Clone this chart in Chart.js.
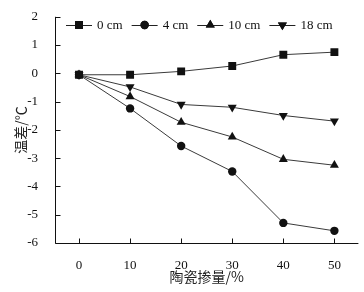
<!DOCTYPE html>
<html><head><meta charset="utf-8">
<script src="https://cdn.jsdelivr.net/npm/chart.js@4/dist/chart.umd.min.js"></script>
<style>html,body{margin:0;padding:0;background:#fff}#wrap{width:364px;height:292px}</style>
</head><body><div id="wrap"><canvas id="c" width="364" height="292"></canvas></div>
<script>
const xValues = [0, 10, 20, 30, 40, 50];
const seriesNames = ['0 cm', '4 cm', '10 cm', '18 cm'];
const s0cm  = [-0.05, -0.05, 0.07, 0.26, 0.66, 0.75];
const s4cm  = [-0.05, -1.24, -2.57, -3.47, -5.29, -5.57];
const s10cm = [-0.05, -0.82, -1.73, -2.25, -3.04, -3.25];
const s18cm = [-0.05, -0.48, -1.10, -1.20, -1.49, -1.69];
const yTicks = [-6, -5, -4, -3, -2, -1, 0, 1, 2];
const xTicks = [0, 10, 20, 30, 40, 50];
const xTitle = '陶瓷掺量/%';
const yTitle = '温差/℃';

const seriesData = [s0cm, s4cm, s10cm, s18cm];
const styles = [
  {pointStyle:'rect', radius:5.6, rotation:0},
  {pointStyle:'circle', radius:4.2, rotation:0},
  {pointStyle:'triangle', radius:5.2, rotation:0},
  {pointStyle:'triangle', radius:5.2, rotation:180}
];
const numFont = '"Liberation Serif", "Times New Roman", serif';
const cjkFont = '"Noto Sans CJK SC", sans-serif';

const datasets = seriesNames.map((n, i) => ({
  label: n,
  data: xValues.map((x, j) => ({x: x, y: seriesData[i][j]})),
  borderColor: '#3a3a3a',
  borderWidth: 1,
  backgroundColor: '#111',
  pointBackgroundColor: '#111',
  pointBorderColor: '#111',
  pointBorderWidth: 0,
  pointStyle: styles[i].pointStyle,
  pointRadius: styles[i].radius,
  pointRotation: styles[i].rotation,
  tension: 0
}));

const axesPlugin = {
  id: 'axesPlugin',
  afterDraw(chart) {
    const {ctx, chartArea: a, scales: {x, y}} = chart;
    ctx.save();
    ctx.strokeStyle = '#111';
    ctx.lineWidth = 1;
    ctx.beginPath();
    const L = Math.round(a.left) + 0.5, B = Math.round(a.bottom) + 0.5;
    ctx.moveTo(L, a.top); ctx.lineTo(L, B); ctx.lineTo(a.right, B);
    yTicks.forEach(v => { const p = Math.round(y.getPixelForValue(v)) + 0.5; ctx.moveTo(L, p); ctx.lineTo(L + 5, p); });
    xTicks.forEach(v => { const p = Math.round(x.getPixelForValue(v)) + 0.5; ctx.moveTo(p, B); ctx.lineTo(p, B - 5); });
    ctx.stroke();
    // legend
    let lx = 66; const ly = 25;
    ctx.font = '13px ' + numFont;
    ctx.textBaseline = 'middle';
    ctx.fillStyle = '#111';
    chart.data.datasets.forEach((ds, i) => {
      ctx.beginPath();
      ctx.strokeStyle = '#222';
      ctx.moveTo(lx, ly + 0.5); ctx.lineTo(lx + 26, ly + 0.5); ctx.stroke();
      Chart.helpers.drawPoint(ctx, {pointStyle: ds.pointStyle, radius: ds.pointRadius, rotation: ds.pointRotation, borderWidth: 0}, lx + 13, ly);
      ctx.fillStyle = '#111';
      ctx.fill();
      const tx = lx + 31;
      ctx.fillText(ds.label, tx, ly + 1);
      lx = tx + ctx.measureText(ds.label).width + 9;
    });
    ctx.restore();
  }
};

new Chart(document.getElementById('c'), {
  type: 'line',
  data: { datasets },
  options: {
    responsive: false,
    animation: false,
    layout: { padding: { top: 15, right: 4, left: 0, bottom: 0 } },
    plugins: { legend: { display: false }, tooltip: { enabled: false } },
    scales: {
      x: {
        type: 'linear', min: -4.7, max: 54.7,
        afterBuildTicks: s => { s.ticks = xTicks.map(v => ({value: v})); },
        afterFit: s => { s.height = 49; },
        grid: { display: false }, border: { display: false },
        ticks: { padding: 7, color: '#111', font: { family: numFont, size: 13 }, maxRotation: 0 },
        title: { display: true, text: xTitle, color: '#222', font: { family: cjkFont, size: 14 }, padding: { top: 0, bottom: 7 } }
      },
      y: {
        type: 'linear', min: -6, max: 2,
        afterBuildTicks: s => { s.ticks = yTicks.map(v => ({value: v})); },
        afterFit: s => { s.width = 55; },
        grid: { display: false }, border: { display: false },
        ticks: { padding: 9, color: '#111', font: { family: numFont, size: 13 } },
        title: { display: true, text: yTitle, color: '#222', font: { family: cjkFont, size: 14 }, padding: { top: 12, bottom: 0 } }
      }
    }
  },
  plugins: [axesPlugin]
});
</script>
</body></html>
